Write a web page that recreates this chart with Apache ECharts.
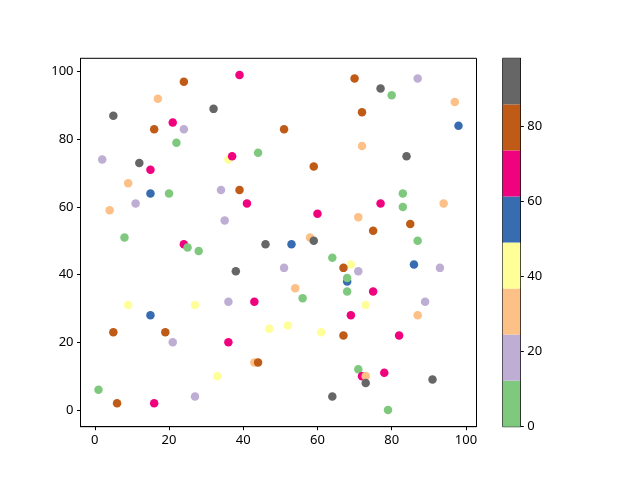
<!DOCTYPE html>
<html>
<head>
<meta charset="utf-8">
<script src="https://cdn.jsdelivr.net/npm/echarts@6/dist/echarts.min.js"></script>
<style>html,body{margin:0;padding:0;background:#fff;}#chart{width:640px;height:480px;}</style>
</head>
<body>
<div id="chart"></div>
<script>
// Data (x, y, colour value)
const xs = [39,24,17,32,5,21,24,16,22,44,36,37,2,12,15,9,15,20,34,39,11,41,4,35,8,24,46,
  70,87,77,80,97,72,98,51,72,84,59,83,83,94,77,60,71,75,85,87,58,59,53,
  25,28,38,9,27,36,43,15,47,5,19,21,36,43,44,33,1,27,6,16,
  64,51,69,67,71,68,68,68,86,93,54,56,75,73,89,87,69,52,61,67,82,71,72,73,73,78,91,64,79];
const ys = [99,97,92,89,87,85,83,83,79,76,74,75,74,73,71,67,64,64,65,65,61,61,59,56,51,49,49,
  98,98,95,93,91,88,84,83,78,75,72,64,60,61,61,58,57,53,55,50,51,50,49,
  48,47,41,31,31,32,32,28,24,23,23,20,20,14,14,10,6,4,2,2,
  45,42,43,42,41,38,39,35,43,42,36,33,35,31,32,28,28,25,23,22,22,12,10,10,8,11,9,4,0];
const cs = [67,80,30,92,92,67,18,80,6,6,43,67,18,92,67,30,55,6,18,80,18,67,30,18,6,67,92,
  80,18,92,6,30,80,55,80,30,92,80,6,6,30,67,67,30,80,80,6,30,92,55,
  6,6,92,43,43,18,67,55,43,80,80,18,67,30,80,43,6,18,80,67,
  6,18,43,80,18,55,6,6,55,18,30,6,67,43,18,30,67,43,43,80,67,6,67,30,92,67,92,92,6];
// Colour bar
const cbColors = ['#7fc97f','#beaed4','#fdc086','#ffff99','#386cb0','#f0027f','#bf5b17','#666666'];
const cbMin = 0, cbMax = 98;
const cbTicks = [0,20,40,60,80];
const xTicks = [0,20,40,60,80,100];
const yTicks = [0,20,40,60,80,100];

const points = xs.map((x,i)=>[x, ys[i], cs[i]]);
const step = (cbMax-cbMin)/cbColors.length;
const pieces = cbColors.map((c,i)=>({gte: cbMin+i*step, lt: cbMin+(i+1)*step + (i===cbColors.length-1?1:0), color: c}));
const cbSeries = cbColors.map((c,i)=>({
  type:'bar', xAxisIndex:1, yAxisIndex:1, stack:'cb', data:[step],
  barWidth:'100%', itemStyle:{color:c}, silent:true, animation:false
}));

const font = 'Noto Sans';
const axisCommon = {
  axisLine:{show:true, onZero:false, lineStyle:{color:'#000', width:1}},
  axisTick:{show:true, length:3.5, lineStyle:{color:'#000', width:1}},
  axisLabel:{color:'#000', fontSize:13, fontFamily:font},
  splitLine:{show:false}
};

const chart = echarts.init(document.getElementById('chart'));
chart.setOption({
  animation:false,
  backgroundColor:'#fff',
  grid:[
    {left:80.5, right:163.5, top:58.3, bottom:53.3, show:true, borderColor:'#000', borderWidth:1, containLabel:false},
    {left:502.7, width:17.6, top:58.3, bottom:53.3, show:true, borderColor:'#000', borderWidth:1, containLabel:false}
  ],
  xAxis:[
    Object.assign({}, axisCommon, {type:'value', gridIndex:0, min:-3.85, max:102.85,
      axisTick:Object.assign({}, axisCommon.axisTick, {customValues:xTicks}),
      axisLabel:Object.assign({}, axisCommon.axisLabel, {customValues:xTicks, margin:7})}),
    {type:'category', gridIndex:1, data:['cb'], show:false, boundaryGap:true}
  ],
  yAxis:[
    Object.assign({}, axisCommon, {type:'value', gridIndex:0, min:-4.95, max:103.95,
      axisTick:Object.assign({}, axisCommon.axisTick, {customValues:yTicks}),
      axisLabel:Object.assign({}, axisCommon.axisLabel, {customValues:yTicks, margin:7})}),
    Object.assign({}, axisCommon, {type:'value', gridIndex:1, position:'right', min:cbMin, max:cbMax,
      axisTick:Object.assign({}, axisCommon.axisTick, {customValues:cbTicks}),
      axisLabel:Object.assign({}, axisCommon.axisLabel, {customValues:cbTicks, margin:7})})
  ],
  visualMap:{type:'piecewise', show:false, seriesIndex:0, dimension:2, pieces:pieces},
  series:[
    {type:'scatter', xAxisIndex:0, yAxisIndex:0, data:points, symbolSize:8.5,
     itemStyle:{opacity:1}, silent:true}
  ].concat(cbSeries)
});
</script>
</body>
</html>
